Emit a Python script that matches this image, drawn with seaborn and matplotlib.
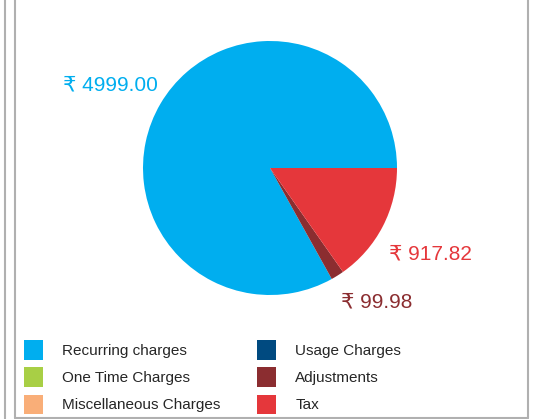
import matplotlib
matplotlib.use("Agg")
import matplotlib.pyplot as plt
from matplotlib.patches import Patch
from matplotlib.lines import Line2D
import seaborn as sns

# bill breakdown (zero-valued categories still appear in the legend)
categories = ["Recurring charges", "One Time Charges", "Miscellaneous Charges",
              "Usage Charges", "Adjustments", "Tax"]
amounts = [4999.00, 0.0, 0.0, 0.0, 99.98, 917.82]
colors = ["#00AEEF", "#A8CF45", "#F9AE78", "#004A80", "#8B2D30", "#E5373B"]

# pie draws counterclockwise from 3 o'clock: recurring, adjustments, tax
pie_order = [0, 1, 2, 3, 4, 5]
label_pos = {0: (-1.26, 0.65), 4: (0.84, -1.055), 5: (1.26, -0.68)}

sns.set_theme(style="white")
plt.rcParams["font.family"] = ["Liberation Sans", "DejaVu Sans"]

fig = plt.figure(figsize=(5.38, 4.19), dpi=100)
W, H = 538, 419
cx, cy, r = 270, 168, 127
ax = fig.add_axes([(cx - r) / W, (H - cy - r) / H, 2 * r / W, 2 * r / H])

vals = [amounts[i] for i in pie_order]
cols = [colors[i] for i in pie_order]
ax.pie(vals, colors=cols, startangle=0, counterclock=True, radius=1,
       wedgeprops=dict(linewidth=0))
ax.set_xlim(-1, 1)
ax.set_ylim(-1, 1)
ax.set_aspect("equal")
ax.axis("off")

for i, (x, y) in label_pos.items():
    ax.text(x, y, f"\u20b9 {amounts[i]:.2f}", color=colors[i], fontsize=15,
            ha="center", va="center", clip_on=False)

handles = [Patch(facecolor=c, edgecolor="none", label=l) for c, l in zip(colors, categories)]
fig.legend(handles=handles, ncol=2, loc="upper left",
           bbox_to_anchor=(24 / W, 1 - 340 / H), frameon=False, fontsize=11,
           borderpad=0, borderaxespad=0, handlelength=1.22, handleheight=1.6,
           handletextpad=1.3, labelspacing=0.5, columnspacing=2.36)

# frame lines around the panel
gray = "#B0B0B0"
fig.add_artist(Line2D([4.5 / W, 4.5 / W], [0, 1], color=gray, lw=1.5))
fig.add_artist(Line2D([15 / W, 15 / W], [1.5 / H, 1], color=gray, lw=1.5))
fig.add_artist(Line2D([528 / W, 528 / W], [1.5 / H, 1], color=gray, lw=1.5))
fig.add_artist(Line2D([15 / W, 528 / W], [1.5 / H, 1.5 / H], color=gray, lw=1.5))

fig.savefig("out.png", dpi=100)
